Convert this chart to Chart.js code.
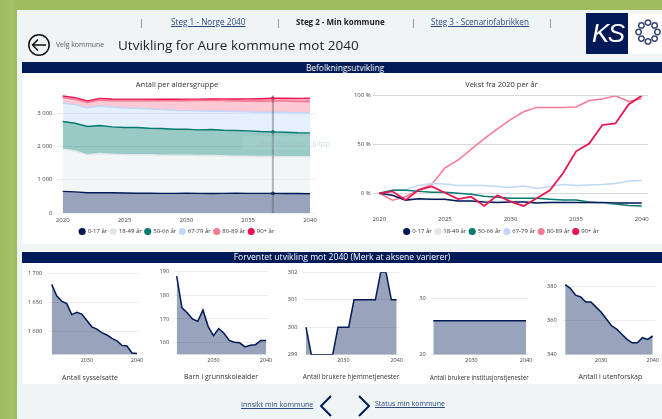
<!DOCTYPE html>
<html><head><meta charset="utf-8">
<script src="https://cdn.jsdelivr.net/npm/chart.js@4"></script>
<style>
html,body{margin:0;padding:0;width:662px;height:419px;overflow:hidden;background:#eff4f4}
#root{position:absolute;left:0;top:0;width:662px;height:419px;overflow:hidden;font-family:"Open Sans",sans-serif;filter:blur(.35px)}
.abs{position:absolute}
.txt{position:absolute;white-space:nowrap}
a,.lnk{color:#2f4a80;text-decoration:underline}
canvas{position:absolute}
</style></head><body><div id="root">
<div class="abs" style="left:0;top:0;width:662px;height:10px;background:#9fbc5c"></div>
<div class="abs" style="left:0;top:0;width:17px;height:419px;background:linear-gradient(90deg,#9dba5c,#a6c268 70%,#9dba5c)"></div>
<div class="abs" style="left:22px;top:62px;width:640px;height:182px;background:#fff"></div>
<div class="abs" style="left:22px;top:251px;width:640px;height:133px;background:#fff"></div>
<div class="abs" style="left:22px;top:62px;width:640px;height:11px;background:#001a57"></div>
<div class="abs" style="left:22px;top:252px;width:640px;height:11px;background:#001a57"></div>
<div id="charts"></div>
<div class="txt" style="left:25px;width:640px;text-align:center;top:62px;font-size:8.4px;line-height:11px;color:#fff;opacity:.98">Befolkningsutvikling</div>
<div class="txt" style="left:22px;width:640px;text-align:center;top:252px;font-size:8.6px;line-height:11px;color:#fff">Forventet utvikling mot 2040 (Merk at aksene varierer)</div>
<div class="txt" style="left:139px;top:16px;font-size:9px;color:#666">|</div>
<div class="txt" style="left:276px;top:16px;font-size:9px;color:#666">|</div>
<div class="txt" style="left:411px;top:16px;font-size:9px;color:#666">|</div>
<div class="txt" style="left:548px;top:16px;font-size:9px;color:#666">|</div>
<div class="txt lnk" style="left:171px;top:15.5px;font-size:8.2px;line-height:12px">Steg 1 - Norge 2040</div>
<div class="txt" style="left:296px;top:15.5px;font-size:8px;line-height:12px;font-weight:700;color:#222">Steg 2 - Min kommune</div>
<div class="txt lnk" style="left:431px;top:15.5px;font-size:8.1px;line-height:12px">Steg 3 - Scenariofabrikken</div>
<svg class="abs" style="left:27px;top:33px" width="24" height="24" viewBox="0 0 24 24" fill="none" stroke="#111" stroke-width="1.5"><circle cx="12" cy="12" r="10.2"/><path d="M19 12H5.5M11 6.5 5.5 12l5.5 5.5"/></svg>
<div class="txt" style="left:56px;top:40px;font-size:6.9px;line-height:10px;color:#555">Velg kommune</div>
<div class="txt" style="left:118px;top:34.5px;font-size:13.5px;line-height:20px;color:#222">Utvikling for Aure kommune mot 2040</div>
<div class="abs" style="left:586px;top:13px;width:42px;height:41px;background:#001a57"></div>
<div class="abs" style="left:628px;top:13px;width:34px;height:41px;background:#fff"></div>
<div class="txt" style="left:592px;top:18px;font-size:26px;line-height:30px;color:#fff;font-style:italic;font-family:'Liberation Sans',sans-serif;letter-spacing:-1.5px">KS</div>
<svg class="abs" style="left:635px;top:19px" width="26" height="26" viewBox="0 0 26 26" fill="none" stroke="#3a4a78" stroke-width="1.5"><circle cx="13" cy="3.6" r="2.7"/><circle cx="19.6" cy="6.4" r="2.7"/><circle cx="22.4" cy="13" r="2.7"/><circle cx="19.6" cy="19.6" r="2.7"/><circle cx="13" cy="22.4" r="2.7"/><circle cx="6.4" cy="19.6" r="2.7"/><circle cx="3.6" cy="13" r="2.7"/><circle cx="6.4" cy="6.4" r="2.7"/></svg>
<div class="txt lnk" style="left:241px;top:398px;font-size:7.1px;line-height:12px">Innsikt min kommune</div>
<div class="txt lnk" style="left:375px;top:398px;font-size:7px;line-height:12px">Status min kommune</div>
<svg class="abs" style="left:319px;top:394px" width="52" height="24" viewBox="0 0 52 24" fill="none" stroke="#001a57" stroke-width="2"><path d="M12 2 2 12l10 10M40 2l10 10-10 10"/></svg>
<div class="txt" style="left:243px;top:136px;width:100px;height:14px;background:rgba(238,246,252,.1);font-size:8px;line-height:14px;color:rgba(150,185,200,.4);padding-left:17px;box-sizing:border-box">Rektangulært klipp</div>
</div>
<script>
const years = ["2020","2021","2022","2023","2024","2025","2026","2027","2028","2029","2030","2031","2032","2033","2034","2035","2036","2037","2038","2039","2040"];
const ageGroups = ["0-17 år","18-49 år","50-66 år","67-79 år","80-89 år","90+ år"];
const ageColors = ["#001a57","#dee8e8","#007a70","#bed7fa","#f87896","#eb1450"];
// Antall per aldersgruppe
const count0 = [650,635,610,610,610,600,595,595,590,590,595,590,585,590,595,590,590,590,585,585,580];
const count1 = [1270,1235,1140,1180,1160,1150,1155,1155,1150,1150,1145,1140,1145,1130,1115,1120,1110,1110,1110,1110,1110];
const count2 = [830,830,850,840,820,820,820,800,800,780,780,770,780,770,770,760,750,740,735,720,720];
const count3 = [550,560,560,590,600,590,580,580,570,570,560,570,550,570,570,570,580,590,600,605,610];
const count4 = [170,158,164,176,185,214,228,247,265,282,298,312,320,320,320,320,331,335,340,330,335];
const count5 = [50,51,46,52,53,50,47,48,44,49,46,44,47,52,60,72,76,85,86,96,100];
// Vekst fra 2020 per år
const growth0 = [0,-2,-7,-5.5,-6,-6,-8,-8,-9,-9.5,-9,-9,-10,-9.5,-9.5,-9.5,-9.5,-9.5,-10,-10,-10];
const growth1 = [0,-2,-7,-6,-6.5,-7,-8,-8,-8,-8,-8,-8,-9,-9,-9,-9.5,-9.5,-10,-10,-10,-11];
const growth2 = [0,3,3,2,1,1,0,-1,-3,-4,-5,-5,-5,-6,-7,-7,-9,-10,-11,-12.5,-13];
const growth3 = [0,3,4,8,10,9.5,8,8,8,7,6,7.5,5,7,9,8,8.5,9,10,12.5,13];
const growth4 = [0,-7,-3.5,3.5,9,26,34,45,56,66,75.5,83.5,88,88,88,88.5,95,96.5,100,94,97];
const growth5 = [0,2,-7,3.5,7,0.5,-6,-3.5,-13,-2,-8.5,-13,-5,3,20.5,43,51,70,71.5,91,100];
// Small charts
const shortYears = ["2023","2024","2025","2026","2027","2028","2029","2030","2031","2032","2033","2034","2035","2036","2037","2038","2039","2040"];
const employed = [1681,1661.5,1652,1648,1629,1633,1630,1619,1608,1604,1598,1594,1588,1584,1576,1575,1563,1562];
const pupils = [188,174.7,172.6,170,169,173.7,166.8,163,166,164,161,160.2,160,158.3,159,159.2,161,161];
const homeCare = [300,299,299,299,299,299,300,300,300,301,301,301,301,301,302,302,301,301];
const institution = [26,26,26,26,26,26,26,26,26,26,26,26,26,26,26,26,26,26];
const outside = [381.2,379,375,374,371,371,368,365,361,357,355,352,349,347,347,350,349,351];
const highlightYear = "2037";

const FF = '"Open Sans",sans-serif';
function fmt(v){return String(v).replace(/\B(?=(\d{3})+$)/g,' ');}
Chart.defaults.font.family = FF;
Chart.defaults.animation = false;

const crosshair = {id:'crosshair',afterDatasetsDraw(c){
  const o=c.options.plugins.crosshair; if(!o||!o.year) return;
  const x=c.scales.x.getPixelForValue(c.data.labels.indexOf(o.year));
  const g=c.ctx; g.save(); g.strokeStyle='rgba(90,90,90,.42)'; g.lineWidth=2;
  g.beginPath(); g.moveTo(x,c.chartArea.top+2); g.lineTo(x,c.chartArea.bottom); g.stroke(); g.restore();
}};
const legendFit = {id:'legendFit',beforeInit(c){
  const H=c.options.plugins.legendFit&&c.options.plugins.legendFit.h;
  if(!H||!c.legend) return;
  const f=c.legend.fit; c.legend.fit=function(){f.call(this); this.height=H;};
}};

function make(box,x0,x1,top,bottom,labels,datasets,o){
  const cv=document.createElement('canvas');
  cv.width=box.r-box.l; cv.height=box.b-box.t;
  cv.style.left=box.l+'px'; cv.style.top=box.t+'px';
  cv.style.width=cv.width+'px'; cv.style.height=cv.height+'px';
  document.getElementById('charts').appendChild(cv);
  const half=(x1-x0)/(labels.length-1)/2;
  const left=x0-half, right=x1+half;
  const start=Math.min(2*o.center-right,left-0.5);
  const lh=o.titleSize*1.2;
  let xh=box.b-bottom;
  if(o.legend){ xh-=o.legendH; }
  let tp={}, layoutTop=top-box.t;
  if(o.titlePos==='top'){ tp={top:o.titleTop,bottom:top-box.t-lh-o.titleTop}; layoutTop=0; }
  else { tp={top:o.titleTop,bottom:o.titleBottom}; xh-=lh+o.titleTop+o.titleBottom; }
  new Chart(cv,{type:'line',data:{labels,datasets},plugins:[crosshair,legendFit],options:{
    responsive:false,devicePixelRatio:1,animation:false,events:[],
    layout:{padding:{left:start-box.l,top:layoutTop,right:box.r-right,bottom:0}},
    elements:{line:{tension:0}},
    scales:{
      x:{offset:true,stacked:!!o.stacked,grid:{display:false,drawTicks:false},border:{display:false},
        afterFit(s){s.height=xh;},
        ticks:{autoSkip:false,maxRotation:0,padding:o.xPad,color:'#444',font:{size:o.xSize},
          callback(v){const l=this.getLabelForValue(v);return o.xShow.includes(l)?l:'';}}},
      y:{min:o.min,max:o.max,stacked:!!o.stacked,border:{display:false},
        grid:{color:o.grid,lineWidth:1,drawTicks:false},
        afterFit(s){s.width=left-start; s._computeLabelArea=()=>null;},
        afterBuildTicks(s){s.ticks=o.ticks.map(v=>({value:v}));},
        ticks:{padding:o.yPad,color:'#444',font:{size:o.ySize},callback:o.yFmt||fmt}}
    },
    plugins:{
      tooltip:{enabled:false},
      crosshair:{year:o.cross},
      legendFit:{h:o.legendH},
      title:{display:true,text:o.title,position:o.titlePos,color:'#333',font:{size:o.titleSize,weight:'normal',lineHeight:1.2},padding:tp},
      legend:{display:!!o.legend,position:'bottom',labels:{usePointStyle:true,boxWidth:5,boxHeight:5,padding:3.5,color:'#333',font:{size:6},
        generateLabels(c){return c.data.datasets.map((d,i)=>({text:d.label,fillStyle:d.borderColor,strokeStyle:d.borderColor,lineWidth:0,pointStyle:'circle',datasetIndex:i,fontColor:'#333'}));}}}
    }
  }});
}
function rgba(h,a){const n=parseInt(h.slice(1),16);return `rgba(${n>>16},${(n>>8)&255},${n&255},${a})`;}

const counts=[count0,count1,count2,count3,count4,count5];
make({l:22,r:330,t:74,b:242},62.7,310,93.3,213,years,
  counts.map((d,i)=>({label:ageGroups[i],data:d,borderColor:ageColors[i],backgroundColor:rgba(ageColors[i],.4),
    borderWidth:1.4,fill:i===0?'origin':'-1',
    pointRadius:c=>years[c.dataIndex]===highlightYear?1.8:0,pointBackgroundColor:ageColors[i],pointBorderWidth:0})),
  {center:177,title:'Antall per aldersgruppe',titlePos:'top',titleSize:7.5,titleTop:6,stacked:true,min:0,max:3600,ticks:[0,1000,2000,3000],
   grid:'#ececec',xShow:["2020","2025","2030","2035","2040"],xPad:4,xSize:6,ySize:6,yPad:4,legend:true,legendH:17,cross:highlightYear});

const growths=[growth0,growth1,growth2,growth3,growth4,growth5];
make({l:340,r:662,t:74,b:242},379.3,641.7,95.7,212.8,years,
  growths.map((d,i)=>({label:ageGroups[i],data:d,borderColor:ageColors[i],backgroundColor:ageColors[i],
    borderWidth:i===5?1.8:1.5,pointRadius:0,fill:false,order:i===5?-1:0})),
  {center:501.5,title:'Vekst fra 2020 per år',titlePos:'top',titleSize:7.5,titleTop:6,min:-20,max:100,ticks:[0,50,100],
   grid:'#d9d9d9',xShow:["2020","2025","2030","2035","2040"],xPad:3,xSize:6,ySize:6,yPad:2,legend:true,legendH:17,yFmt:v=>v+' %'});

function small(box,x0,x1,top,data,min,max,ticks,title,center,titleBottom,yPad){
  make(box,x0,x1,top,354.7,shortYears,[{label:title,data,borderColor:'#001a57',backgroundColor:'rgba(0,26,87,.4)',borderWidth:1.5,pointRadius:0,fill:'origin'}],
  {center,title,titlePos:'bottom',titleSize:7,titleTop:5,titleBottom,min,max,ticks,grid:'#ececec',xShow:["2030","2040"],xPad:3,xSize:5.4,ySize:5.6,yPad,legend:false,legendH:0});
}
small({l:22,r:150,t:263,b:384},51.7,137,270,employed,1560,1700,[1600,1650,1700],'Antall sysselsatte',90,1.8,7);
small({l:150,r:280,t:263,b:384},176.7,266,270.3,pupils,155,190,[160,170,180,190],'Barn i grunnskolealder',222,2.5,5);
small({l:280,r:410,t:263,b:384},306,396.7,270.3,homeCare,299,302,[299,300,301,302],'Antall brukere hjemmetjenester',351.7,2.5,6);
small({l:410,r:540,t:263,b:384},433.3,526,298.3,institution,20,30,[20,30],'Antall brukere institusjonstjenester',481,1.5,5);
small({l:540,r:662,t:263,b:384},565.3,656,283.3,outside,340,382,[340,360,380],'Antall i utenforskap',612,2.5,6);
</script></body></html>
